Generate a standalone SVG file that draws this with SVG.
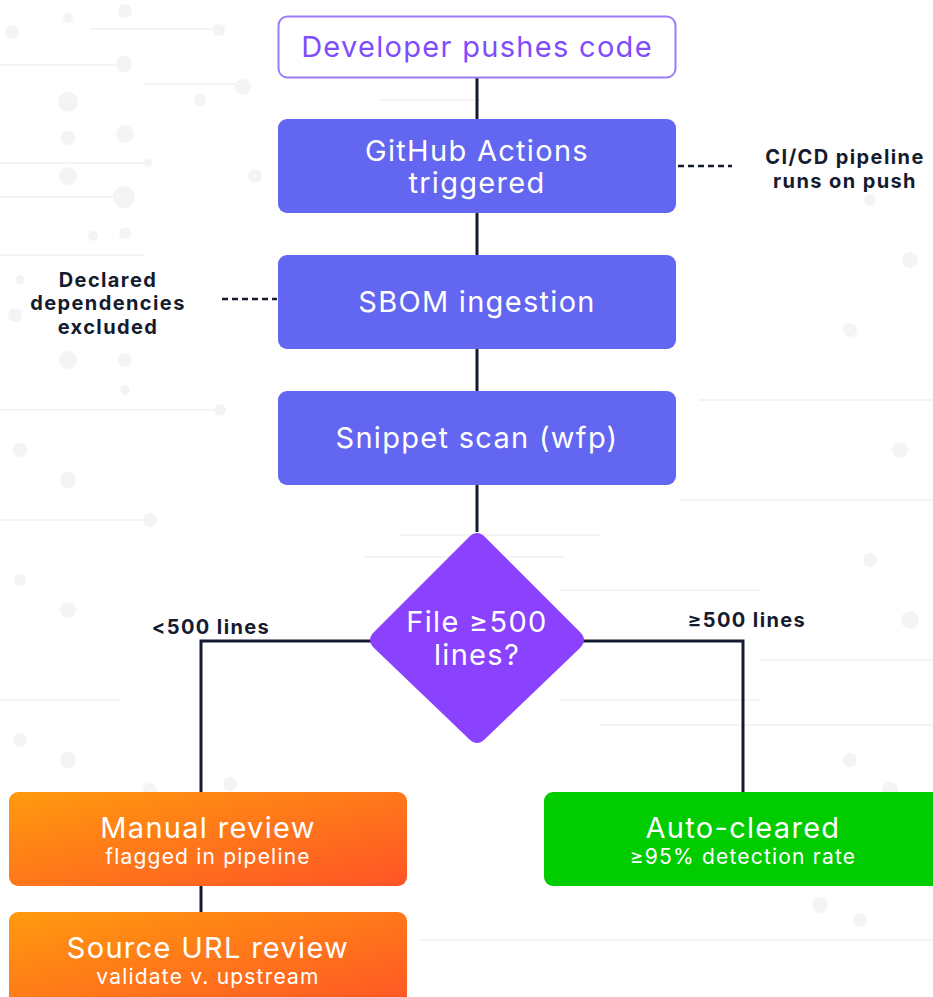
<svg xmlns="http://www.w3.org/2000/svg" width="933" height="997" viewBox="0 0 933 997">
<defs>
<linearGradient id="og" x1="0" y1="0" x2="1" y2="1">
<stop offset="0" stop-color="#ff9a0e"/>
<stop offset="1" stop-color="#ff5426"/>
</linearGradient>
<style>
.bgd{fill:#f4f4f5}
.bgl{stroke:#f4f4f5;stroke-width:2;fill:none}
.conn{stroke:#151b2e;stroke-width:3;fill:none}
.dash{stroke:#151b2e;stroke-width:2.5;stroke-dasharray:6 4;fill:none}
.nt{font-family:Inter,"Liberation Sans",sans-serif;font-size:29px;letter-spacing:1.3px;fill:#ffffff;text-anchor:middle}
.st{font-family:Inter,"Liberation Sans",sans-serif;font-size:21px;letter-spacing:1.2px;fill:#ffffff;text-anchor:middle}
.lb{font-family:Inter,"Liberation Sans",sans-serif;font-size:20px;letter-spacing:1.4px;font-weight:700;fill:#151b2e;text-anchor:middle}
.ind{fill:#6366f1}
</style>
</defs>
<rect width="933" height="997" fill="#ffffff"/>
<g id="background">
<circle class="bgd" cx="12" cy="32" r="7"/><circle class="bgd" cx="68" cy="18" r="5"/><circle class="bgd" cx="125" cy="11" r="7"/>
<line class="bgl" x1="90" y1="29" x2="218" y2="29"/><circle class="bgd" cx="219" cy="30" r="6"/>
<line class="bgl" x1="0" y1="65" x2="124" y2="65"/><circle class="bgd" cx="124" cy="64" r="8"/>
<line class="bgl" x1="145" y1="84" x2="243" y2="84"/><circle class="bgd" cx="243" cy="87" r="8"/>
<circle class="bgd" cx="68" cy="102" r="10"/><circle class="bgd" cx="68" cy="138" r="7"/><circle class="bgd" cx="125" cy="134" r="9"/>
<circle class="bgd" cx="200" cy="100" r="6"/><circle class="bgd" cx="255" cy="176" r="7"/>
<line class="bgl" x1="0" y1="163" x2="148" y2="163"/><circle class="bgd" cx="148" cy="163" r="4"/>
<circle class="bgd" cx="68" cy="176" r="9"/>
<line class="bgl" x1="0" y1="197" x2="124" y2="197"/><circle class="bgd" cx="124" cy="197" r="11"/>
<circle class="bgd" cx="93" cy="236" r="5"/><circle class="bgd" cx="125" cy="233" r="6"/>
<line class="bgl" x1="0" y1="255" x2="145" y2="255"/>
<circle class="bgd" cx="20" cy="280" r="5"/><circle class="bgd" cx="15" cy="315" r="7"/>
<circle class="bgd" cx="68" cy="360" r="9"/><circle class="bgd" cx="125" cy="360" r="7"/><circle class="bgd" cx="125" cy="390" r="5"/>
<line class="bgl" x1="0" y1="410" x2="220" y2="410"/><circle class="bgd" cx="220" cy="410" r="6"/>
<circle class="bgd" cx="20" cy="450" r="7"/><circle class="bgd" cx="68" cy="480" r="8"/>
<line class="bgl" x1="0" y1="520" x2="150" y2="520"/><circle class="bgd" cx="150" cy="520" r="7"/>
<circle class="bgd" cx="20" cy="580" r="6"/><circle class="bgd" cx="68" cy="610" r="8"/>
<line class="bgl" x1="0" y1="700" x2="120" y2="700"/><circle class="bgd" cx="20" cy="740" r="7"/><circle class="bgd" cx="68" cy="760" r="8"/>
<circle class="bgd" cx="150" cy="790" r="7"/><circle class="bgd" cx="230" cy="784" r="7"/>
<line class="bgl" x1="400" y1="535" x2="600" y2="535"/><line class="bgl" x1="365" y1="557" x2="565" y2="557"/>
<line class="bgl" x1="560" y1="590" x2="760" y2="590"/><line class="bgl" x1="560" y1="700" x2="760" y2="700"/>
<line class="bgl" x1="600" y1="725" x2="933" y2="725"/>
<circle class="bgd" cx="870" cy="200" r="6"/><circle class="bgd" cx="910" cy="260" r="8"/><circle class="bgd" cx="850" cy="330" r="7"/>
<line class="bgl" x1="700" y1="400" x2="933" y2="400"/><circle class="bgd" cx="900" cy="450" r="8"/>
<line class="bgl" x1="680" y1="500" x2="933" y2="500"/><circle class="bgd" cx="870" cy="560" r="7"/><circle class="bgd" cx="910" cy="620" r="9"/>
<line class="bgl" x1="760" y1="660" x2="933" y2="660"/><circle class="bgd" cx="850" cy="760" r="7"/><circle class="bgd" cx="890" cy="790" r="8"/>
<circle class="bgd" cx="820" cy="905" r="8"/><circle class="bgd" cx="860" cy="920" r="7"/><line class="bgl" x1="420" y1="940" x2="933" y2="940"/>
<line class="bgl" x1="300" y1="75" x2="500" y2="75"/><line class="bgl" x1="380" y1="100" x2="480" y2="100"/>
</g>
<g id="connectors">
<line class="conn" x1="477" y1="78" x2="477" y2="119"/>
<line class="conn" x1="477" y1="213" x2="477" y2="255"/>
<line class="conn" x1="477" y1="349" x2="477" y2="391"/>
<line class="conn" x1="477" y1="485" x2="477" y2="532"/>
<polyline class="conn" points="371,641 201,641 201,792"/>
<polyline class="conn" points="583,641 743,641 743,792"/>
<line class="conn" x1="201" y1="886" x2="201" y2="912"/>
<line class="dash" x1="678" y1="166" x2="732" y2="166"/>
<line class="dash" x1="222" y1="299" x2="277" y2="299"/>
<text class="lb" x="211" y="634">&lt;500 lines</text>
<text class="lb" x="747" y="627">≥500 lines</text>
</g>
<g id="n1">
<rect x="278.5" y="16.5" width="397" height="61" rx="9" fill="#ffffff" stroke="#9d7cfb" stroke-width="2"/>
<text class="nt" x="477" y="57" style="fill:#7f4dfb">Developer pushes code</text>
</g>
<g id="n2">
<rect class="ind" x="278" y="119" width="398" height="94" rx="9"/>
<text class="nt" x="477" y="161">GitHub Actions</text>
<text class="nt" x="477" y="193">triggered</text>
</g>
<g id="note1">
<text class="lb" x="845" y="164">CI/CD pipeline</text>
<text class="lb" x="845" y="188">runs on push</text>
</g>
<g id="n3">
<rect class="ind" x="278" y="255" width="398" height="94" rx="9"/>
<text class="nt" x="477" y="312">SBOM ingestion</text>
</g>
<g id="note2">
<text class="lb" x="108" y="287">Declared</text>
<text class="lb" x="108" y="310">dependencies</text>
<text class="lb" x="108" y="334">excluded</text>
</g>
<g id="n4">
<rect class="ind" x="278" y="391" width="398" height="94" rx="9"/>
<text class="nt" x="477" y="448">Snippet scan (wfp)</text>
</g>
<g id="decision">
<path d="M469,537 Q477,529 485,537 L580,632 Q588,640 580,648 L485,739 Q477,747 469,739 L374,648 Q366,640 374,632 Z" fill="#8a42ff"/>
<text class="nt" x="477" y="632">File ≥500</text>
<text class="nt" x="477" y="665">lines?</text>
</g>
<g id="n5">
<rect x="9" y="792" width="398" height="94" rx="9" fill="url(#og)"/>
<text class="nt" x="208" y="838">Manual review</text>
<text class="st" x="208" y="864">flagged in pipeline</text>
</g>
<g id="n6">
<rect x="544" y="792" width="400" height="94" rx="9" fill="#00cc00"/>
<text class="nt" x="743" y="838">Auto-cleared</text>
<text class="st" x="743" y="864">≥95% detection rate</text>
</g>
<g id="n7">
<rect x="9" y="912" width="398" height="100" rx="9" fill="url(#og)"/>
<text class="nt" x="208" y="958">Source URL review</text>
<text class="st" x="208" y="984">validate v. upstream</text>
</g>
</svg>
